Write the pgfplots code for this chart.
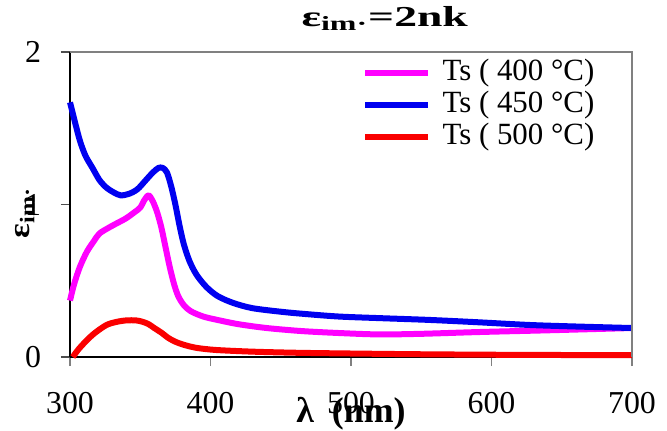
\documentclass[border=0pt]{standalone}
\usepackage{graphicx}
\usepackage{pgfplots}
\pgfplotsset{compat=1.18}
\usepackage{fontspec}
\setmainfont{Liberation Serif}
\newfontfamily\titlefont[FakeStretch=1.58]{Liberation Serif}
\newfontfamily\ylabfont[FakeStretch=1.15]{Liberation Serif}
\definecolor{cmag}{RGB}{255,0,255}
\definecolor{cblue}{RGB}{0,0,240}
\definecolor{cred}{RGB}{250,0,0}
\begin{document}
\begin{tikzpicture}
\begin{axis}[
 at={(0,0)}, anchor=south west,
 scale only axis, width=281bp, height=152.5bp,
 xmin=300, xmax=700, ymin=0, ymax=2,
 xtick={300,400,500,600,700}, ytick={0,1,2},
 axis x line*=bottom, axis y line*=left,
 axis line style={line width=1bp, -},
 tick align=outside,
 major tick length=4.5bp,
 x tick style={gray, line width=0.8bp},
 y tick style={black!70, line width=0.8bp},
 ticklabel style={font=\fontsize{16}{18}\selectfont},
 /pgf/number format/assume math mode=true,
 xticklabel style={yshift=-9.5bp},
 yticklabel style={xshift=-6.5bp},
 clip=false,
 title={ε\textsubscript{im·}=2nk},
 title style={at={(axis description cs:0.56,1)}, anchor=base, yshift=7bp, font=\titlefont\bfseries\fontsize{14.5}{16}\selectfont},
 xlabel={λ\ \ (nm)},
 xlabel style={at={(axis description cs:0.5,0)}, anchor=base, yshift=-32.5bp, font=\bfseries\fontsize{18}{20}\selectfont},
 legend cell align=left,
 legend style={at={(axis description cs:0.519,1)}, anchor=north west, yshift=-2.5bp, draw=none, fill=none, inner sep=0pt, column sep=5bp,
   font=\fontsize{15.5}{18}\selectfont,
   nodes={inner sep=0.75bp, text height=11bp, text depth=3.5bp}},
 legend image code/.code={\draw[#1, line width=3bp] (0bp,0bp) -- (31.5bp,0bp);},
 every axis plot/.append style={line width=3bp, line join=round},
]
\addplot[cmag, smooth] coordinates {
(300,0.37) (303,0.48) (307,0.59) (312,0.69) (317,0.76) (321,0.81) (328,0.85) (334,0.88) (340,0.91) (346,0.95) (350,0.98) (353,1.03) (356,1.06) (359,1.02) (362,0.95) (365,0.85) (368,0.72) (371,0.59) (374,0.48) (377,0.40) (381,0.34) (386,0.30) (395,0.265) (405,0.243) (420,0.215) (440,0.19) (465,0.17) (492,0.157) (520,0.148) (550,0.152) (592,0.164) (640,0.175) (700,0.19)
};
\addlegendentry{Ts ( 400 °C)}
\addplot[cblue, smooth] coordinates {
(300,1.67) (303,1.56) (307,1.42) (311,1.32) (316,1.24) (321,1.16) (326,1.11) (331,1.08) (336,1.06) (342,1.07) (348,1.10) (354,1.16) (359,1.21) (363,1.24) (366,1.24) (369,1.21) (372,1.12) (375,1.00) (378,0.86) (381,0.74) (385,0.63) (390,0.54) (397,0.46) (405,0.40) (416,0.355) (430,0.32) (452,0.295) (470,0.28) (492,0.265) (520,0.255) (556,0.243) (590,0.228) (627,0.21) (660,0.20) (700,0.19)
};
\addlegendentry{Ts ( 450 °C)}
\addplot[cred, smooth] coordinates {
(302,0) (306,0.05) (312,0.11) (318,0.16) (326,0.21) (333,0.23) (340,0.24) (347,0.24) (352,0.23) (356,0.215) (360,0.19) (365,0.16) (370,0.125) (375,0.10) (381,0.08) (390,0.06) (404,0.046) (430,0.035) (460,0.028) (490,0.024) (550,0.018) (620,0.014) (700,0.012)
};
\addlegendentry{Ts ( 500 °C)}
\draw[gray, line width=1.2bp] (rel axis cs:0,1) -- (rel axis cs:1,1) -- (rel axis cs:1,0);
\end{axis}
\node[anchor=center, inner sep=0pt, font=\ylabfont\bfseries\fontsize{15}{17}\selectfont] at (-22.5bp,72bp) {\rotatebox{90}{ε\textsubscript{im·}}};
\pgfresetboundingbox
\path (-35bp,-37bp) rectangle (298.5bp,178.5bp);
\end{tikzpicture}
\end{document}
